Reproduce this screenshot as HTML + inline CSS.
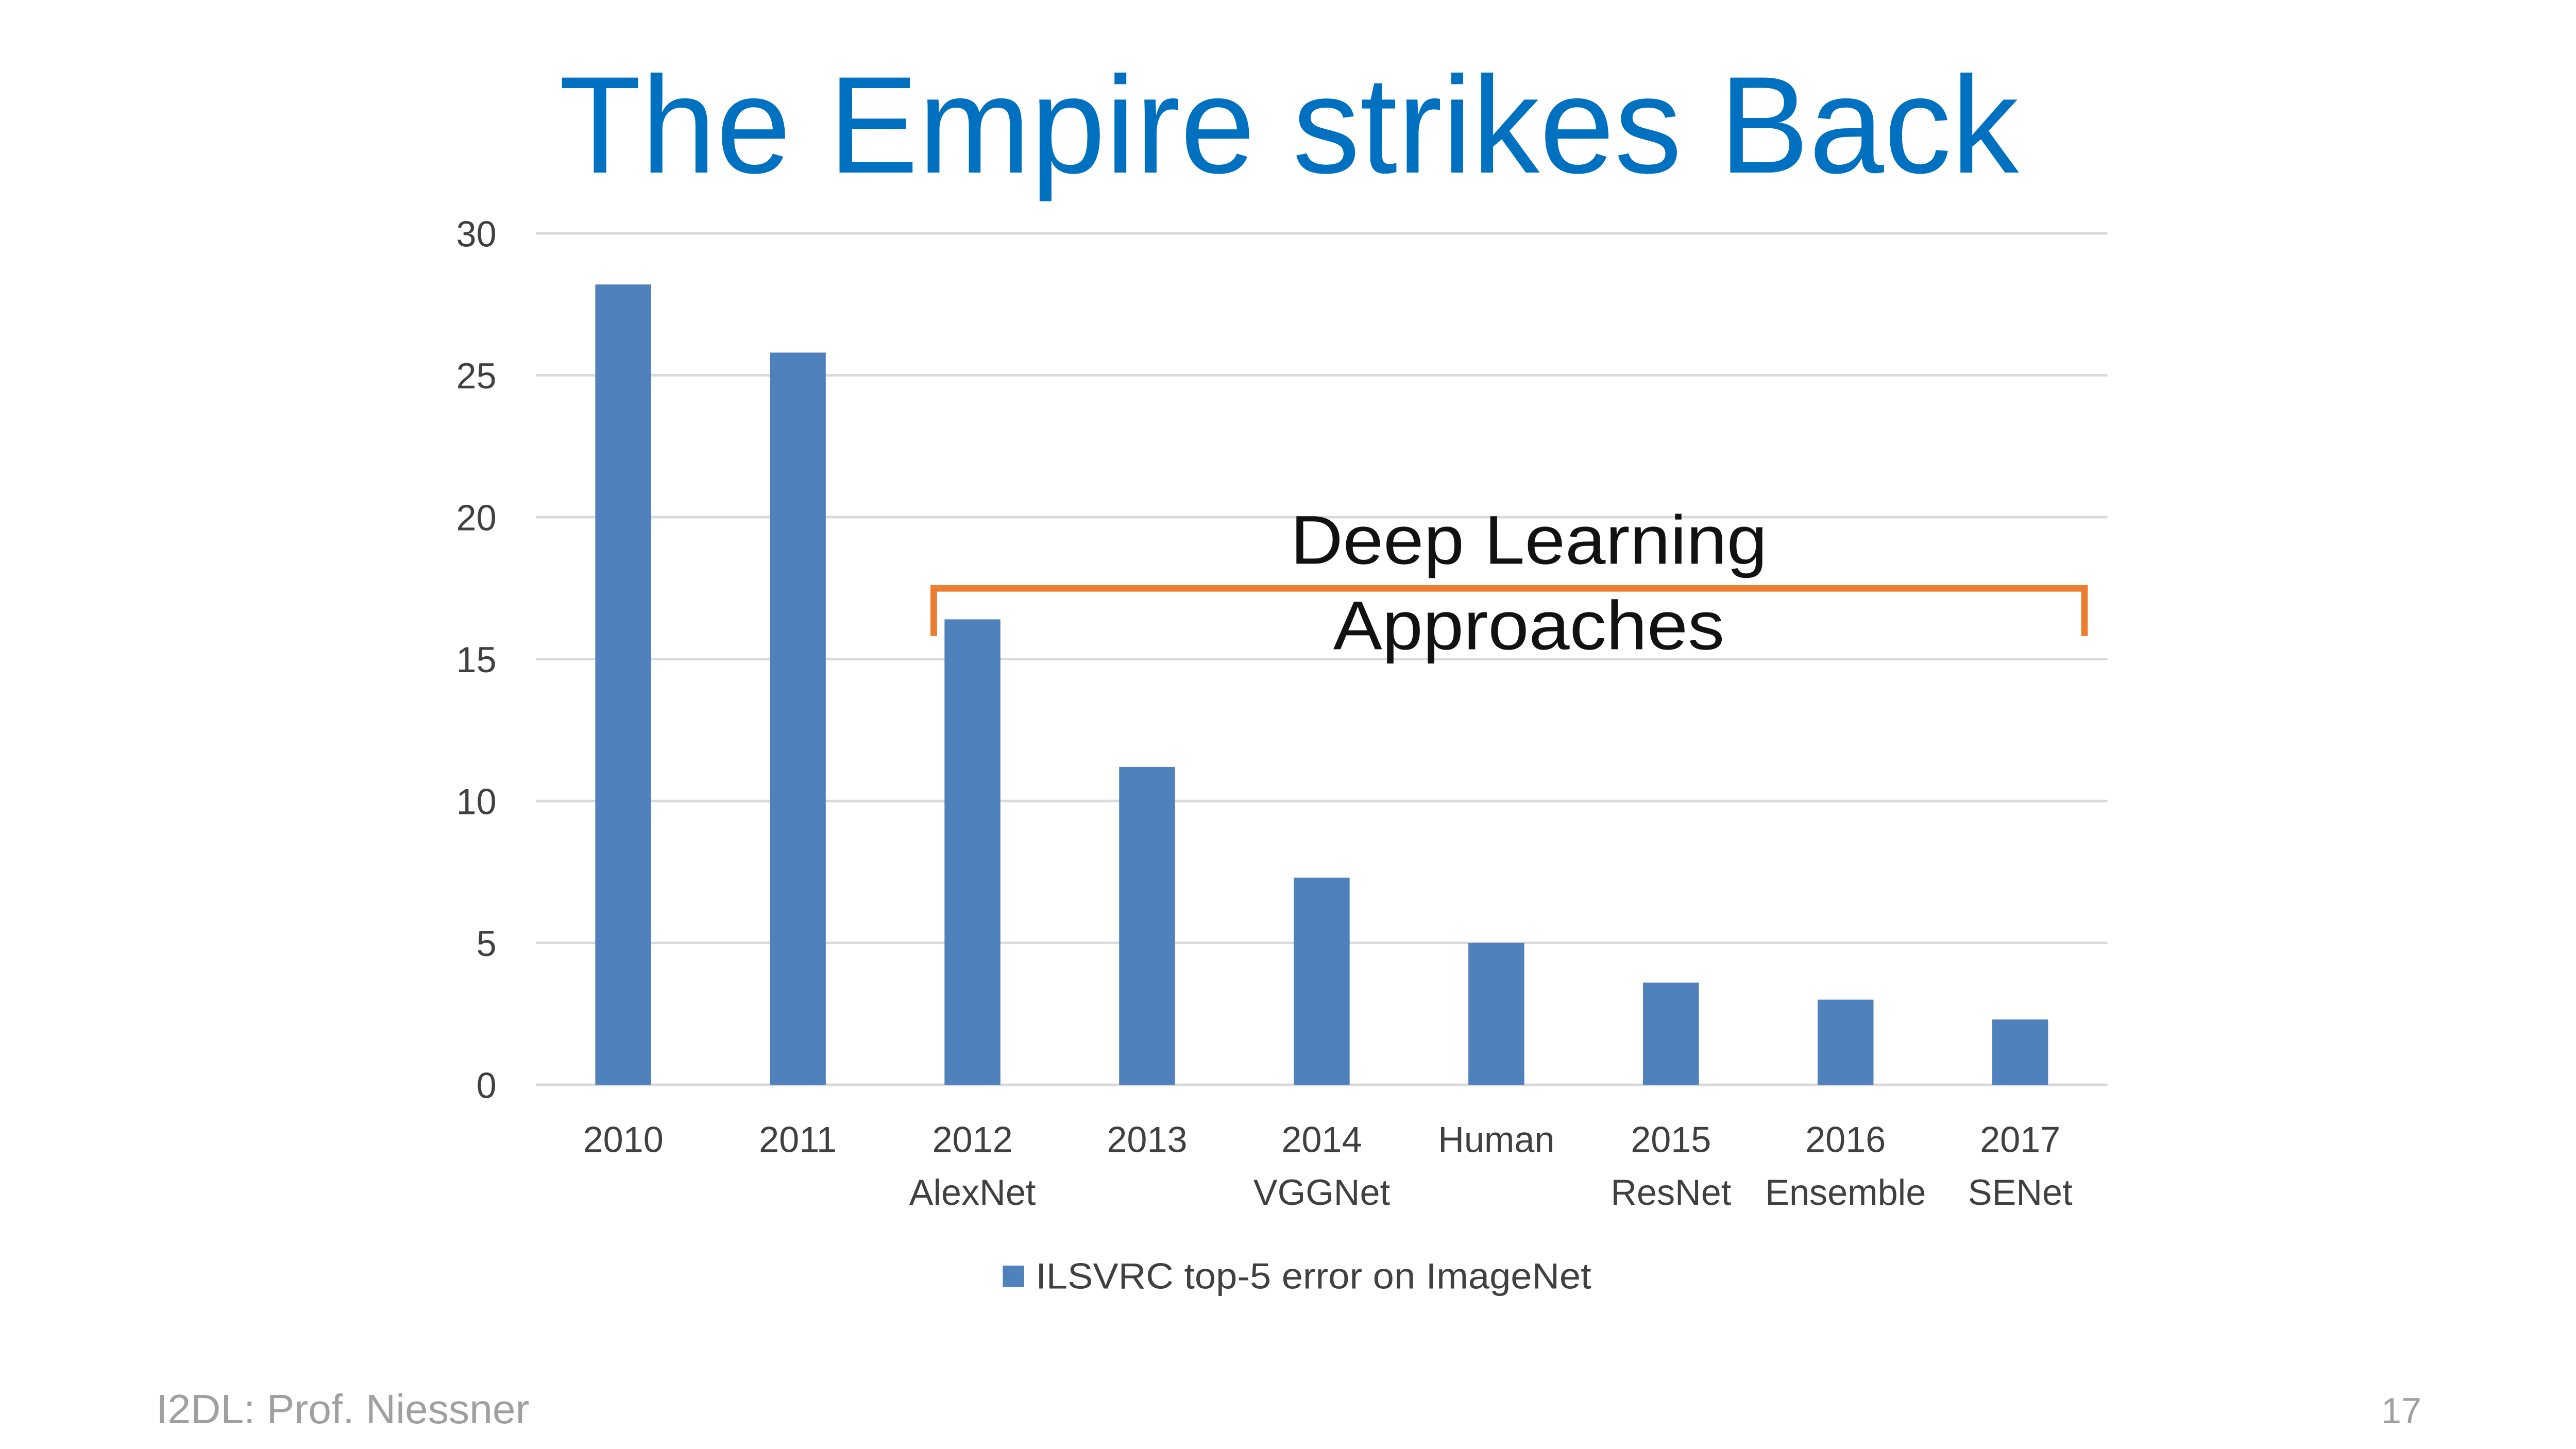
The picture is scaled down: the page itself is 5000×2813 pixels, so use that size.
<!DOCTYPE html>
<html><head><meta charset="utf-8"><style>html,body{margin:0;padding:0;background:#fff}svg{display:block}</style></head>
<body>
<svg id="chart" width="5000" height="2813" viewBox="0 0 1567 881.6" preserveAspectRatio="none" xmlns="http://www.w3.org/2000/svg" font-family="'Liberation Sans', sans-serif">
<rect width="1567" height="882" fill="#fff"/>
<text x="340" y="105" font-size="84" fill="#0070C0" textLength="888" lengthAdjust="spacingAndGlyphs">The Empire strikes Back</text>
<g id="grid"></g>
<g id="bars"></g>
<g id="xlabels"></g>
<g id="ylabels"></g>
<path d="M568,387 V358 H1268 V387" fill="none" stroke="#ED7D31" stroke-width="4"/>
<text x="930" y="343" font-size="42" text-anchor="middle" fill="#111" textLength="290" lengthAdjust="spacingAndGlyphs">Deep Learning</text>
<text x="930" y="395" font-size="42" text-anchor="middle" fill="#111" textLength="238" lengthAdjust="spacingAndGlyphs">Approaches</text>
<rect x="610" y="770" width="13" height="13" fill="#4F81BD"/>
<text x="630" y="784" font-size="22" fill="#404040" textLength="338" lengthAdjust="spacingAndGlyphs">ILSVRC top-5 error on ImageNet</text>
<text x="95" y="866" font-size="25" fill="#a0a0a0" textLength="227" lengthAdjust="spacingAndGlyphs">I2DL: Prof. Niessner</text>
<text x="1473" y="866" font-size="22" fill="#a0a0a0" text-anchor="end">17</text>
</svg>
<script>
const categories = ["2010","2011","2012","2013","2014","Human","2015","2016","2017"];
const subLabels = ["","","AlexNet","","VGGNet","","ResNet","Ensemble","SENet"];
const values = [28.2,25.8,16.4,11.2,7.3,5.0,3.6,3.0,2.3];
const yTicks = [0,5,10,15,20,25,30];
const NS="http://www.w3.org/2000/svg";
const y0=660,y30=142,xL=326,xR=1282;
const yScale=v=>y0-(y0-y30)*v/30;
const step=(xR-xL)/categories.length;
const xCenter=i=>xL+step*(i+0.5);
const bw=34;
function mk(tag,attrs,parent){const e=document.createElementNS(NS,tag);for(const k in attrs)e.setAttribute(k,attrs[k]);document.getElementById(parent).appendChild(e);return e;}
yTicks.forEach(t=>{
  const l=mk('line',{x1:xL,x2:xR,y1:yScale(t),y2:yScale(t),stroke:'#d9d9d9','stroke-width':1.5},'grid');
  
  
  const tx=mk('text',{x:302,y:yScale(t)+8,'font-size':22,'text-anchor':'end',fill:'#404040'},'ylabels');
  tx.textContent=t;
  
  
});
values.forEach((v,i)=>{
  const r=mk('rect',{x:xCenter(i)-bw/2,y:yScale(v),width:bw,height:yScale(0)-yScale(v),fill:'#4F81BD'},'bars');
  
  
  const t=mk('text',{x:xCenter(i),y:701,'font-size':22,'text-anchor':'middle',fill:'#404040'},'xlabels');
  t.textContent=categories[i];
  
  
  if(subLabels[i]){
    const s=mk('text',{x:xCenter(i),y:733,'font-size':22,'text-anchor':'middle',fill:'#404040'},'xlabels');
    s.textContent=subLabels[i];
    
    
  }
});
</script>
</body></html>
